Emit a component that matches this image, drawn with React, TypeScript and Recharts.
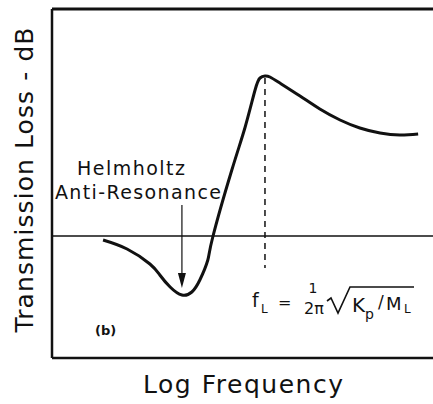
import React from "react";
import { Line, LineChart, ReferenceLine, XAxis, YAxis } from "recharts";

// log frequency (arbitrary units) vs transmission loss (arbitrary dB)
const logFreq = [1.34, 1.97, 2.57, 2.83, 3.1, 3.41, 3.67, 3.88, 4.09, 4.22, 4.72, 5.07, 5.33, 5.46, 5.59, 5.72, 5.98, 6.51, 7.03, 7.56, 8.08, 8.61, 9.13, 9.61];
const lossDb = [-0.4, -1.3, -2.8, -3.9, -5.1, -5.9, -5.6, -4.4, -2.4, -0.1, 6.6, 10.9, 14.6, 15.8, 16.0, 15.9, 15.3, 14.0, 12.7, 11.6, 10.8, 10.3, 10.1, 10.2];

const helmholtzFreq = 3.41;
const peakFreq = 5.59;
const xDomain = [0, 10];
const yDomain = [-12.2, 22.7];

const data = logFreq.map((f, i) => ({ f, tl: lossDb[i] }));

const ink = "#111";
const font = "'DejaVu Sans', sans-serif";

function Arrow(props: any) {
  const { x1, y1, x2, y2 } = props;
  return (
    <g>
      <line x1={x1} y1={y1} x2={x2} y2={y2 - 12} stroke={ink} strokeWidth={1.2} />
      <polygon points={`${x2},${y2} ${x2 - 4},${y2 - 15} ${x2 + 4},${y2 - 15}`} fill={ink} />
    </g>
  );
}

export default function App() {
  return (
    <div style={{ position: "absolute", left: 0, top: 0, width: 433, height: 404, background: "#fff" }}>
      <LineChart width={433} height={404} data={data} margin={{ top: 9, right: 0, bottom: 0, left: 0 }}>
        <XAxis dataKey="f" type="number" domain={xDomain} height={46} tick={false} tickLine={false} axisLine={{ stroke: ink, strokeWidth: 2.5 }} />
        <YAxis type="number" domain={yDomain} width={52} tick={false} tickLine={false} axisLine={{ stroke: ink, strokeWidth: 2.5 }} />
        <ReferenceLine y={yDomain[1]} stroke={ink} strokeWidth={3} />
        <ReferenceLine y={0} stroke={ink} strokeWidth={1.5} />
        <ReferenceLine segment={[{ x: peakFreq, y: 15.8 }, { x: peakFreq, y: -3.2 }]} stroke={ink} strokeWidth={1.5} strokeDasharray="6 5" />
        <ReferenceLine segment={[{ x: helmholtzFreq, y: 3.1 }, { x: helmholtzFreq, y: -5.2 }]} shape={Arrow} />
        <Line dataKey="tl" type="natural" stroke={ink} strokeWidth={3} dot={false} isAnimationActive={false} />
      </LineChart>
      <svg width={433} height={404} style={{ position: "absolute", left: 0, top: 0, pointerEvents: "none" }} fontFamily={font} fill={ink}>
        <text transform="translate(33,180) rotate(-90)" textAnchor="middle" fontSize={25} textLength={305} lengthAdjust="spacing">
          Transmission Loss - dB
        </text>
        <text x={243} y={393} textAnchor="middle" fontSize={25} textLength={200} lengthAdjust="spacing">
          Log Frequency
        </text>
        <text x={77} y={175} fontSize={19} textLength={108} lengthAdjust="spacing">Helmholtz</text>
        <text x={55} y={199} fontSize={19} textLength={166} lengthAdjust="spacing">Anti-Resonance</text>
        <text x={95} y={335} fontSize={13} fontWeight="bold">(b)</text>
        {/* f_L = 1/(2π) √(Kp/ML) */}
        <text x={252} y={307} fontSize={19}>f</text>
        <text x={261} y={313} fontSize={12}>L</text>
        <text x={278} y={308} fontSize={16}>=</text>
        <text x={313} y={293} fontSize={14} textAnchor="middle">1</text>
        <text x={314} y={314} fontSize={16} textAnchor="middle">2π</text>
        <path d="M327,301 L331,298 L338,313 L350,287 L414,287" fill="none" stroke={ink} strokeWidth={1.6} />
        <text x={352} y={312} fontSize={20}>K</text>
        <text x={365} y={319} fontSize={14}>p</text>
        <text x={378} y={308} fontSize={17}>/</text>
        <text x={386} y={310} fontSize={18}>M</text>
        <text x={404} y={313} fontSize={12}>L</text>
      </svg>
    </div>
  );
}
